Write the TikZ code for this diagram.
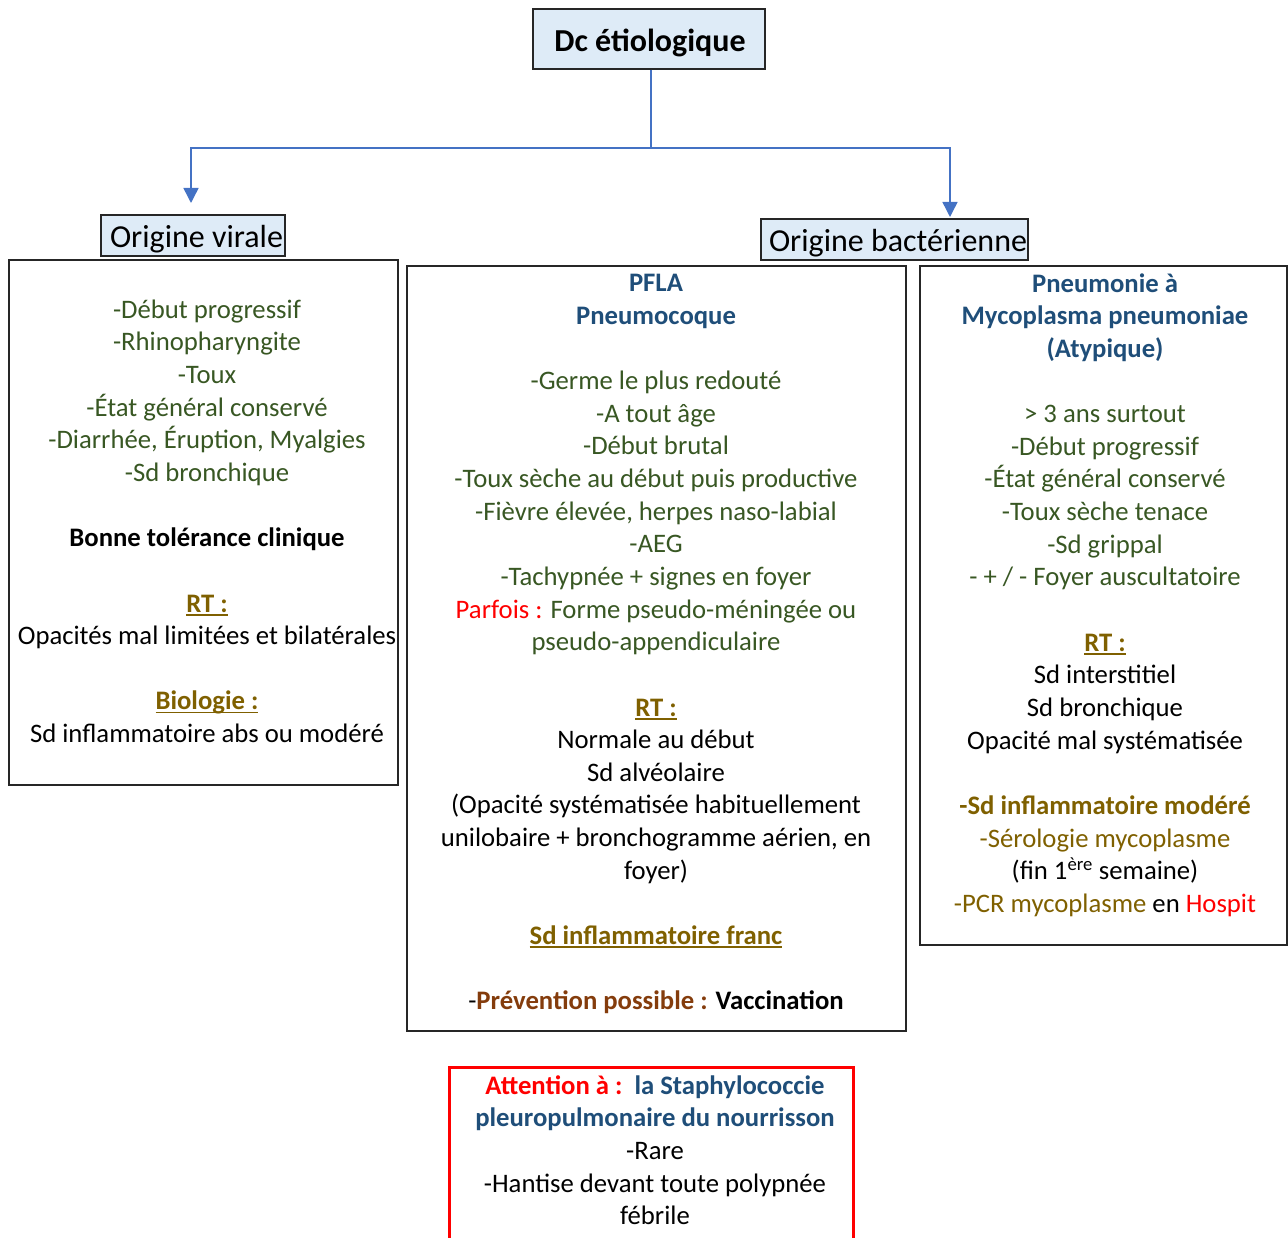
\documentclass[tikz,border=0pt]{standalone}
\usepackage{fontspec}
\setmainfont{Carlito}
\usetikzlibrary{arrows.meta}

\definecolor{boxfill}{HTML}{DEEBF7}
\definecolor{linkblue}{HTML}{4472C4}
\definecolor{txtgreen}{HTML}{385723}
\definecolor{txtgold}{HTML}{7F6000}
\definecolor{txtblue}{HTML}{1F4E79}
\definecolor{txtbrown}{HTML}{843C0C}
\definecolor{txtred}{HTML}{FF0000}
\definecolor{framegray}{HTML}{262626}

% coloured text helpers
\newcommand\tgrn[1]{{\color{txtgreen}#1}}
\newcommand\tgold[1]{{\color{txtgold}#1}}
\newcommand\tblu[1]{{\color{txtblue}#1}}
\newcommand\tred[1]{{\color{txtred}#1}}
\newcommand\tbrn[1]{{\color{txtbrown}#1}}
% bold gold heading with a rule close under the baseline
\newcommand\uhead[1]{{\bfseries\color{txtgold}\setbox0\hbox{#1}\rlap{\rule[-3.5pt]{\wd0}{1.6pt}}\box0}}
% heading text set slightly low (and to the right) inside its box
\newcommand\boxlabel[2]{\hspace*{#1}\raisebox{-3.5pt}[\height][\depth]{#2}}
\newlength\blankline
\setlength\blankline{32.65pt}

\begin{document}
\begin{tikzpicture}[x=1pt,y=-1pt,
  catbox/.style={draw=framegray, line width=1.2pt, fill=boxfill, inner sep=0pt},
  panel/.style={draw=framegray, line width=1.2pt, inner sep=0pt},
  body/.style={inner sep=0pt, anchor=north, align=center,
    font=\fontsize{26.7}{32.65}\selectfont},
  link/.style={draw=linkblue, line width=1.5pt},
  arr/.style={link, -{Triangle[length=15pt,width=15pt]}}]

\path[use as bounding box] (0,0) rectangle (1288,1238);

% headings
\node[catbox, minimum width=232pt, minimum height=60pt,
  font=\fontsize{32}{38}\selectfont\bfseries] (title) at (649,39) {\boxlabel{2pt}{Dc étiologique}};
\node[catbox, minimum width=184pt, minimum height=41pt,
  font=\fontsize{32}{38}\selectfont] (virale) at (193,235.5) {\boxlabel{7pt}{Origine virale}};
\node[catbox, minimum width=267pt, minimum height=41pt,
  font=\fontsize{32}{38}\selectfont] (bact) at (894.5,239.5) {\boxlabel{7pt}{Origine bactérienne}};

% branching connectors
\coordinate (split) at (651,148);
\coordinate (vtip) at (191,203);
\coordinate (btip) at (950,217);
\draw[link] (title.south -| split) -- (split);
\draw[arr] (split) -| (vtip);
\draw[arr] (split) -| (btip);

% panels
\node[panel, minimum width=389pt, minimum height=525pt] (viral) at (203.5,522.5) {};
\node[panel, minimum width=499pt, minimum height=765pt] (pfla) at (656.5,648.5) {};
\node[panel, minimum width=367pt, minimum height=679pt] (myco) at (1103.5,605.5) {};
\node[draw=txtred, line width=3pt, inner sep=0pt,
  minimum width=404pt, minimum height=190pt] (staph) at (651,1162) {};

% panel texts
\node[body] (viraltxt) at (207,295.1) {\strut\tgrn{-Début progressif}\\
\tgrn{-Rhinopharyngite}\\
\tgrn{-Toux}\\
\tgrn{-État général conservé}\\
\tgrn{-Diarrhée, Éruption, Myalgies}\\
\tgrn{-Sd bronchique}\\[\blankline]
\textbf{Bonne tolérance clinique}\\[\blankline]
\uhead{RT :}\\
Opacités mal limitées et bilatérales\\[\blankline]
\uhead{Biologie :}\\
Sd inflammatoire abs ou modéré};

\node[body] (pflatxt) at (656,268.5) {\strut\tblu{\bfseries PFLA}\\
\tblu{\bfseries Pneumocoque}\\[\blankline]
\tgrn{-Germe le plus redouté}\\
\tgrn{-A tout âge}\\
\tgrn{-Début brutal}\\
\tgrn{-Toux sèche au début puis productive}\\
\tgrn{-Fièvre élevée, herpes naso-labial}\\
\tgrn{-AEG}\\
\tgrn{-Tachypnée + signes en foyer}\\
\tred{Parfois :} \tgrn{Forme pseudo-méningée ou}\\
\tgrn{pseudo-appendiculaire}\\[\blankline]
\uhead{RT :}\\
Normale au début\\
Sd alvéolaire\\
(Opacité systématisée habituellement\\
unilobaire + bronchogramme aérien, en\\
foyer)\\[\blankline]
\uhead{Sd inflammatoire franc}\\[\blankline]
-\tbrn{\bfseries Prévention possible :} \textbf{Vaccination}};

\node[body] (mycotxt) at (1105,269) {\strut\tblu{\bfseries Pneumonie à}\\
\tblu{\bfseries Mycoplasma pneumoniae}\\
\tblu{\bfseries (Atypique)}\\[\blankline]
\tgrn{> 3 ans surtout}\\
\tgrn{-Début progressif}\\
\tgrn{-État général conservé}\\
\tgrn{-Toux sèche tenace}\\
\tgrn{-Sd grippal}\\
\tgrn{- + / - Foyer auscultatoire}\\[\blankline]
\uhead{RT :}\\
Sd interstitiel\\
Sd bronchique\\
Opacité mal systématisée\\[\blankline]
\tgold{\bfseries -Sd inflammatoire modéré}\\
\tgold{-Sérologie mycoplasme}\\
(fin 1\textsuperscript{ère} semaine)\\
\tgold{-PCR mycoplasme} en \tred{Hospit}};

\node[body] (staphtxt) at (655,1071) {\strut\tred{\bfseries Attention à :}\ \ \tblu{\bfseries la Staphylococcie}\\
\tblu{\bfseries pleuropulmonaire du nourrisson}\\
-Rare\\
-Hantise devant toute polypnée\\
fébrile};
\end{tikzpicture}
\end{document}
